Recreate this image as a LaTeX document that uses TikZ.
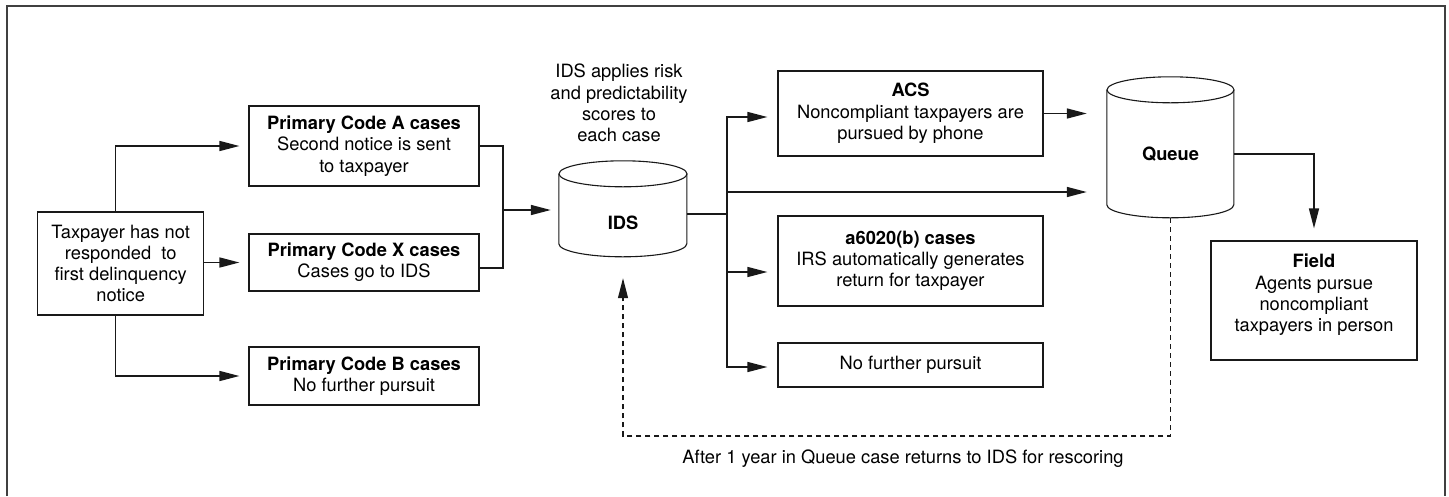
\documentclass[tikz,border=0pt]{standalone}
\usepackage{fontspec}
\setmainfont{TeX Gyre Heros}
\usetikzlibrary{arrows.meta}
\newcommand\fs{\fontsize{18.3}{21.3}\selectfont}
\begin{document}
\begin{tikzpicture}[x=1pt,y=-1pt,
  box/.style={draw=black!90, line width=1.2pt, inner sep=0pt, align=center, font=\fs},
  conn/.style={line width=1.5pt, draw=black!90, -{Triangle[length=20pt,width=10pt]}},
  plainline/.style={line width=1.5pt, draw=black!90},
  dashline/.style={line width=1.2pt, draw=black!90, dash pattern=on 5pt off 4pt, -{Triangle[length=20pt,width=10pt]}},
  cyl/.style={line width=1.1pt, draw=black!90}
]
\useasboundingbox (0,0) rectangle (1449,496);
\draw[line width=1.5pt, black!75] (7,496) -- (7,6) -- (1445,6) -- (1445,496);

% left column
\node[box, minimum width=166pt, minimum height=103pt] (tp) at (120.7,263.5) {Taxpayer has not\\responded~ to\\first delinquency\\notice};
\node[box, minimum width=230pt, minimum height=80pt] (ca) at (364,146) {\textbf{Primary Code A cases}\\Second notice is sent\\to taxpayer};
\node[box, minimum width=230pt, minimum height=57pt] (cx) at (364,262.5) {\textbf{Primary Code X cases}\\Cases go to IDS};
\node[box, minimum width=230pt, minimum height=58pt] (cb) at (364,376) {\textbf{Primary Code B cases}\\No further pursuit};

% IDS cylinder
\node[minimum width=128pt, minimum height=96pt, inner sep=0pt] (ids) at (623,209) {};
\draw[cyl] (ids.north) ++(0,13) ellipse [x radius=64, y radius=13];
\draw[cyl] (ids.north west) ++(0,13) -- ++(0,70) arc[start angle=180, end angle=0, x radius=64, y radius=13] -- ++(0,-70);
\node[font=\fs\bfseries, inner sep=0pt] (idsl) at (623,223) {IDS};
\node[font=\fs, align=center, inner sep=0pt] (idst) at (619,103) {IDS applies risk\\and predictability\\scores to\\each case};

% middle boxes
\node[box, minimum width=265pt, minimum height=85pt] (acs) at (910.5,113.5) {\textbf{ACS}\\Noncompliant taxpayers are\\pursued by phone};
\node[box, minimum width=265pt, minimum height=90pt] (a6) at (910.5,261) {\textbf{a6020(b) cases}\\IRS automatically generates\\return for taxpayer};
\node[box, minimum width=265pt, minimum height=44pt] (nf) at (910.5,365) {No further pursuit};

% Queue cylinder
\node[minimum width=127pt, minimum height=141pt, inner sep=0pt] (queue) at (1170.5,147.5) {};
\draw[cyl] (queue.north) ++(0,13) ellipse [x radius=63.5, y radius=13];
\draw[cyl] (queue.north west) ++(0,13) -- ++(0,115) arc[start angle=180, end angle=0, x radius=63.5, y radius=13] -- ++(0,-115);
\node[font=\fs\bfseries, inner sep=0pt] (queuel) at (1170.5,154) {Queue};

% Field
\node[box, minimum width=206pt, minimum height=119pt] (field) at (1314,300.5) {\textbf{Field}\\Agents pursue\\noncompliant\\taxpayers in person\\[-6pt]\mbox{}};

% connectors from taxpayer
\draw[conn, shorten >=9pt] ([xshift=-5pt]tp.north) |- (ca.west);
\draw[conn, shorten >=9pt] (tp.east |- cx.west) -- (cx.west);
\draw[conn, shorten >=9pt] ([xshift=-5pt]tp.south) |- (cb.west);

% merge into IDS
\coordinate (mj) at (503,210);
\draw[plainline] (ca.east) -| (mj) |- ([yshift=-5.5pt]cx.east);
\draw[conn, shorten >=8pt] (mj) -- (mj -| ids.west);

% split from IDS
\coordinate (sj) at (727,214);
\coordinate (qj) at (727,192);
\draw[plainline] (ids.east |- sj) -- (sj);
\draw[conn, shorten >=10pt] (sj) |- ([yshift=-3.5pt]acs.west);
\draw[conn, shorten >=10pt] (sj) |- ([yshift=-11pt]a6.west);
\draw[conn, shorten >=10pt] (sj) |- ([yshift=-2pt]nf.west);
\draw[conn, shorten >=20pt] (qj) -- (qj -| queue.west);
\draw[conn, shorten >=20pt] (acs.east) -- (acs.east -| queue.west);

% queue to field
\draw[conn, shorten >=12pt] (queue.east |- queuel) -| (field.north);

% dashed return
\coordinate (d1) at (1170.5,436);
\coordinate (d2) at (623,436);
\draw[dashline, shorten >=21pt] (queue.south) -- (d1) -- (d2) -- (ids.south);
\node[font=\fs, inner sep=0pt] (note) at (903,459) {After 1 year in Queue case returns to IDS for rescoring};
\end{tikzpicture}
\end{document}
